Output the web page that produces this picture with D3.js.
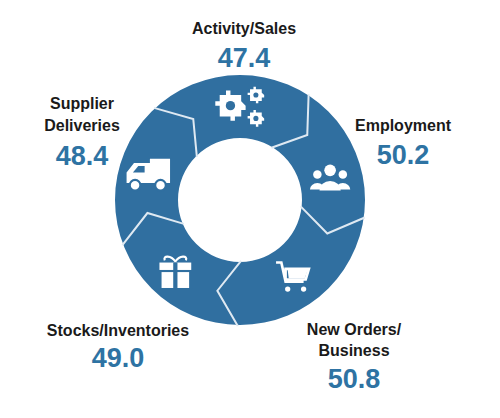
<!DOCTYPE html><html><head><script src="https://cdn.jsdelivr.net/npm/d3@7"></script>
<style>body{margin:0;background:#fff}</style></head><body><svg width="500" height="418"></svg>
<script>
const categories=["Activity/Sales","Employment","New Orders/ Business","Stocks/Inventories","Supplier Deliveries"];
const values=[47.4,50.2,50.8,49.0,48.4];
const dividerAngles=[33,98,181,249,317];
const svg=d3.select("svg"),cx=240,cy=200,ro=125,ri=62,blue="#306fa0";
const g=svg.append("g").attr("transform",`translate(${cx},${cy})`);
g.append("path").attr("d",d3.arc()({innerRadius:ri,outerRadius:ro,startAngle:0,endAngle:2*Math.PI})).attr("fill",blue);
const rad=d=>d*Math.PI/180,pt=(a,r)=>[r*Math.sin(rad(a)),-r*Math.cos(rad(a))];
dividerAngles.forEach(a=>{g.append("path").attr("d",d3.line()([pt(a,ro+1),pt(a+13,(ro+ri)/2),pt(a-2,ri-1)])).attr("fill","none").attr("stroke","#dfe9f2").attr("stroke-width",2);});
const w="#fff";
const ic=svg.append("g").attr("transform","translate(240,200) scale(1.06) translate(-245,-200)");
function gear(x,y,r,n){const pts=[];for(let i=0;i<n*2;i++){const a=i*Math.PI/n;const rr=i%2?r:r*1.3;pts.push([x+rr*Math.cos(a),y+rr*Math.sin(a)]);}
ic.append("path").attr("d",d3.line().curve(d3.curveStepBefore)(pts)+"Z").attr("fill",w);
ic.append("circle").attr("cx",x).attr("cy",y).attr("r",r*0.85).attr("fill",w);ic.append("circle").attr("cx",x).attr("cy",y).attr("r",r*0.4).attr("fill",blue);}
gear(236,111,11,8);gear(260,101,6,8);gear(260,123,6,8);
[[318,180,4],[342,180,4]].forEach(([x,y,r])=>{ic.append("circle").attr("cx",x).attr("cy",y-4).attr("r",r).attr("fill",w);ic.append("path").attr("d",`M${x-7},${y+10}a7,6 0 0 1 14,0z`).attr("fill",w);});
ic.append("circle").attr("cx",330).attr("cy",172).attr("r",5.5).attr("fill",w);
ic.append("path").attr("d","M320,191a10,9 0 0 1 20,0z").attr("fill",w);
ic.append("path").attr("d","M279,259h5l4,18h17M288,265h22l-3,10h-19z").attr("fill","none").attr("stroke",w).attr("stroke-width",2.5);
ic.append("path").attr("d","M290,266h19l-3,8h-15z").attr("fill",w);
ic.append("circle").attr("cx",290).attr("cy",284).attr("r",2.5).attr("fill",w);ic.append("circle").attr("cx",305).attr("cy",284).attr("r",2.5).attr("fill",w);
ic.append("rect").attr("x",169).attr("y",259).attr("width",30).attr("height",7).attr("fill",w);
ic.append("rect").attr("x",171).attr("y",268).attr("width",26).attr("height",15).attr("fill",w);
ic.append("rect").attr("x",182).attr("y",259).attr("width",4).attr("height",24).attr("fill",blue);
ic.append("path").attr("d","M184,258c-4,-6 -12,-6 -10,-1M184,258c4,-6 12,-6 10,-1").attr("fill","none").attr("stroke",w).attr("stroke-width",2);
ic.append("path").attr("d","M160,161h19v23h-41v-10l7,-9h15z").attr("fill",w);
ic.append("path").attr("d","M144,174l5,-6h6v6z").attr("fill",blue);
[[146,186],[170,186]].forEach(([x,y])=>{ic.append("circle").attr("cx",x).attr("cy",y).attr("r",5).attr("fill",w).attr("stroke",blue).attr("stroke-width",2);});
const lab=[[244,[34],67],[403,[131],164],[354,[335,356],388],[118,[336],367],[82,[109,131],165]];
lab.forEach(([x,ys,vy],i)=>{const parts=categories[i]==="Supplier Deliveries"?["Supplier","Deliveries"]:categories[i]==="New Orders/ Business"?["New Orders/","Business"]:[categories[i]];
parts.forEach((t,j)=>svg.append("text").attr("x",x).attr("y",ys[j]).attr("text-anchor","middle").attr("font-family","Arial, Liberation Sans, sans-serif").attr("font-weight","bold").attr("font-size",16).attr("fill","#1a1a1a").text(t));
svg.append("text").attr("x",x).attr("y",vy).attr("text-anchor","middle").attr("font-family","Arial, Liberation Sans, sans-serif").attr("font-weight","bold").attr("font-size",27).attr("fill","#2e73a3").text(values[i].toFixed(1));});
</script></body></html>
